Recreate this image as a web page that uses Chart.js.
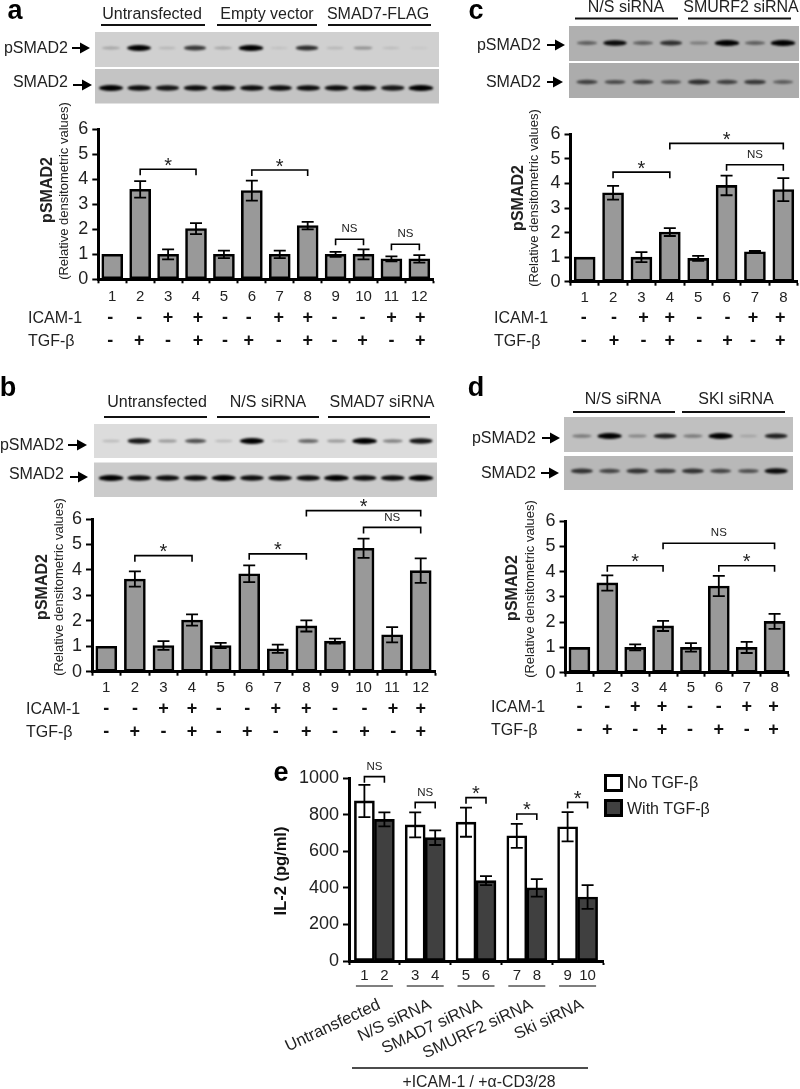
<!DOCTYPE html>
<html lang="en">
<head>
  <meta charset="UTF-8">
  <title>pSMAD2 densitometry and IL-2</title>
  <script src="https://cdn.jsdelivr.net/npm/chart.js"></script>
  <style>
    * { margin: 0; padding: 0; box-sizing: border-box; }
    body { width: 800px; height: 1089px; background: #fff; position: relative; overflow: hidden;
           font-family: 'Liberation Sans', Arial, sans-serif; color: #222; }
    canvas { position: absolute; }
    .t { position: absolute; white-space: nowrap; line-height: 1; }
    .box { position: absolute; border: 3px solid #000; }
  </style>
</head>
<body>
  <canvas id="backdrop" width="800" height="1089" style="left:0;top:0"></canvas>

  <script>
    // panel a
    const aLabels = ['1','2','3','4','5','6','7','8','9','10','11','12'];
    const aValues = [1, 3.6, 1, 2.03, 1, 3.55, 1, 2.15, 1, 1, 0.82, 0.82];
    const aErrors = [0, 0.33, 0.2, 0.22, 0.15, 0.4, 0.15, 0.15, 0.1, 0.2, 0.1, 0.15];
    const aIcam = ['-','-','+','+','-','-','+','+','-','-','+','+'];
    const aTgf = ['-','+','-','+','-','+','-','+','-','+','-','+'];
    const aBrackets = [[2,4,4.4,'*'], [6,8,4.37,'*'], [9,10,1.6,'NS'], [11,12,1.4,'NS']];

    // panel b
    const bLabels = ['1','2','3','4','5','6','7','8','9','10','11','12'];
    const bValues = [1, 3.64, 1.03, 2.03, 1.03, 3.85, 0.9, 1.8, 1.2, 4.85, 1.45, 3.97];
    const bErrors = [0, 0.3, 0.17, 0.22, 0.1, 0.33, 0.16, 0.22, 0.1, 0.38, 0.3, 0.48];
    const bIcam = ['-','-','+','+','-','-','+','+','-','-','+','+'];
    const bTgf = ['-','+','-','+','-','+','-','+','-','+','-','+'];
    const bBrackets = [[2,4,4.56,'*'], [6,8,4.63,'*'], [8,12,6.33,'*'], [10,12,5.67,'NS']];

    // panel c
    const cLabels = ['1','2','3','4','5','6','7','8'];
    const cValues = [1, 3.62, 1, 2.02, 0.95, 3.92, 1.22, 3.75];
    const cErrors = [0, 0.28, 0.2, 0.16, 0.1, 0.4, 0.03, 0.47];
    const cIcam = ['-','-','+','+','-','-','+','+'];
    const cTgf = ['-','+','-','+','-','+','-','+'];
    const cBrackets = [[2,4,4.46,'*'], [4,8,5.63,'*'], [6,8,4.76,'NS']];

    // panel d
    const dLabels = ['1','2','3','4','5','6','7','8'];
    const dValues = [1, 3.55, 1, 1.85, 1, 3.43, 1, 2.03];
    const dErrors = [0, 0.3, 0.12, 0.2, 0.17, 0.4, 0.22, 0.3];
    const dIcam = ['-','-','+','+','-','-','+','+'];
    const dTgf = ['-','+','-','+','-','+','-','+'];
    const dBrackets = [[2,4,4.23,'*'], [4,8,5.12,'NS'], [6,8,4.23,'*']];

    // panel e
    const eCategories = ['Untransfected','N/S siRNA','SMAD7 siRNA','SMURF2 siRNA','Ski siRNA'];
    const eSeries = ['No TGF-β','With TGF-β'];
    const eNoTgf = [876, 745, 760, 685, 735];
    const eNoTgfErr = [88, 68, 80, 66, 80];
    const eWithTgf = [775, 675, 440, 400, 350];
    const eWithTgfErr = [38, 40, 25, 48, 65];
    const eBarNumbers = ['1','2','3','4','5','6','7','8','9','10'];
    const eBrackets = [[1,2,1009,'NS'], [3,4,868,'NS'], [5,6,894,'*'], [7,8,805,'*'], [9,10,868,'*']];

    // western blot band strength per lane (0-1)
    const aPhospho = [.2,.95,.12,.7,.2,1,.08,.75,.12,.3,.1,.05];
    const aTotal = [.95,.9,.85,.9,.9,.9,.9,.9,.9,.9,.85,1];
    const bPhospho = [.15,.85,.3,.6,.15,.95,.1,.5,.3,1,.4,.85];
    const bTotal = [1,.9,.9,.9,.95,.9,.9,.9,1,.9,.9,1];
    const cPhospho = [.45,.9,.45,.7,.3,1,.45,1];
    const cTotal = [.6,.55,.6,.5,.7,.6,.65,.45];
    const dPhospho = [.35,1,.3,.8,.35,1,.15,.8];
    const dTotal = [.7,.6,.7,.65,.7,.6,.55,.9];

    const FONT = "'Liberation Sans', Arial, sans-serif";

    function put(str, x, y, size, opts) {
      opts = opts || {};
      const el = document.createElement('div');
      el.className = 't';
      el.textContent = str;
      el.style.left = x + 'px';
      el.style.top = y + 'px';
      el.style.fontSize = size + 'px';
      if (opts.bold) el.style.fontWeight = 'bold';
      if (opts.color) el.style.color = opts.color;
      const ax = opts.align === 'right' ? '-100%' : opts.align === 'left' ? '0' : '-50%';
      el.style.transform = 'translate(' + ax + ',-50%)' + (opts.rotate ? ' rotate(' + opts.rotate + 'deg)' : '');
      document.body.appendChild(el);
    }

    // blots, arrows and group lines sit on a plain backdrop canvas
    const bg = document.getElementById('backdrop').getContext('2d');

    function blot(x0, y0, x1, y1, shade, laneL, laneR, bandY, bands) {
      bg.fillStyle = shade;
      bg.fillRect(x0, y0, x1 - x0, y1 - y0);
      const w = (laneR - laneL) / bands.length;
      bg.save();
      bg.beginPath();
      bg.rect(x0, y0, x1 - x0, y1 - y0);
      bg.clip();
      bg.filter = 'blur(1.2px)';
      bands.forEach((s, i) => {
        bg.fillStyle = 'rgba(0,0,0,' + Math.min(1, s * 1.05) + ')';
        bg.beginPath();
        bg.ellipse(laneL + (i + .5) * w, bandY, w * (.3 + .14 * s), 1 + 2 * s, 0, 0, Math.PI * 2);
        bg.fill();
      });
      bg.restore();
    }

    function arrow(x0, x1, y) {
      bg.strokeStyle = '#000';
      bg.fillStyle = '#000';
      bg.lineWidth = 2;
      bg.beginPath(); bg.moveTo(x0, y); bg.lineTo(x1 - 8, y); bg.stroke();
      bg.beginPath(); bg.moveTo(x1 - 10, y - 5.5); bg.lineTo(x1, y); bg.lineTo(x1 - 10, y + 5.5); bg.fill();
    }

    function rule(x0, x1, y, width) {
      bg.strokeStyle = '#111';
      bg.lineWidth = width || 2;
      bg.beginPath(); bg.moveTo(x0, y); bg.lineTo(x1, y); bg.stroke();
    }

    // draws error bars, significance brackets, +/- rows on top of the bars
    function marksPlugin(p) {
      return {
        id: 'marks',
        afterDraw(chart) {
          const ctx = chart.ctx;
          const y = chart.scales.y;
          const x = chart.scales.x;
          const two = chart.data.datasets.length > 1;
          const barX = n => two
            ? chart.getDatasetMeta((n - 1) % 2).data[Math.floor((n - 1) / 2)].x
            : chart.getDatasetMeta(0).data[n - 1].x;

          ctx.save();
          ctx.strokeStyle = '#000';
          ctx.lineCap = 'butt';

          chart.data.datasets.forEach((ds, d) => {
            chart.getDatasetMeta(d).data.forEach((bar, i) => {
              const e = ds.errs[i];
              if (!e) return;
              const hi = y.getPixelForValue(ds.data[i] + e);
              const lo = y.getPixelForValue(ds.data[i] - e);
              ctx.lineWidth = 1.8;
              ctx.beginPath();
              ctx.moveTo(bar.x, hi); ctx.lineTo(bar.x, lo);
              ctx.moveTo(bar.x - 6, hi); ctx.lineTo(bar.x + 6, hi);
              ctx.moveTo(bar.x - 6, lo); ctx.lineTo(bar.x + 6, lo);
              ctx.stroke();
            });
          });

          ctx.textAlign = 'center';
          ctx.textBaseline = 'middle';
          p.brackets.forEach(b => {
            const x0 = barX(b[0]), x1 = barX(b[1]), yy = y.getPixelForValue(b[2]);
            ctx.lineWidth = 1.6;
            ctx.beginPath();
            ctx.moveTo(x0, yy + 6); ctx.lineTo(x0, yy); ctx.lineTo(x1, yy); ctx.lineTo(x1, yy + 6);
            ctx.stroke();
            ctx.fillStyle = '#222';
            if (b[3] === '*') {
              ctx.font = '20px ' + FONT;
              ctx.fillText('*', (x0 + x1) / 2, yy - 3);
            } else {
              ctx.font = '11.5px ' + FONT;
              ctx.fillText('NS', (x0 + x1) / 2, yy - 10);
            }
          });

          if (p.icam) {
            ctx.font = 'bold 18px ' + FONT;
            ctx.fillStyle = '#111';
            p.icam.forEach((s, i) => {
              const px = x.getPixelForValue(i) + p.nudge[i];
              ctx.fillText(s, px, p.rowY[0]);
              ctx.fillText(p.tgf[i], px, p.rowY[1]);
            });
          }

          if (p.barNumbers) {
            ctx.font = '15px ' + FONT;
            ctx.fillStyle = '#222';
            p.barNumbers.forEach((s, i) => {
              ctx.fillText(s, barX(i + 1), p.numberY);
            });
            ctx.lineWidth = 1.2;
            chart.data.labels.forEach((l, i) => {
              const c = x.getPixelForValue(i);
              ctx.beginPath();
              ctx.moveTo(c - 18.5, p.underY); ctx.lineTo(c + 18.5, p.underY);
              ctx.stroke();
            });
          }
          ctx.restore();
        }
      };
    }

    function plotChart(p) {
      const r = p.rect;
      const cv = document.createElement('canvas');
      cv.width = r.right - r.left;
      cv.height = r.bottom - r.top;
      cv.style.left = r.left + 'px';
      cv.style.top = r.top + 'px';
      document.body.appendChild(cv);

      return new Chart(cv.getContext('2d'), {
        type: 'bar',
        data: { labels: p.labels, datasets: p.datasets },
        plugins: [marksPlugin(p)],
        options: {
          responsive: false,
          animation: false,
          layout: {
            autoPadding: false,
            padding: { left: 0, bottom: 0, top: p.plot.top - r.top, right: r.right - p.plot.right }
          },
          plugins: { legend: { display: false }, tooltip: { enabled: false } },
          scales: {
            x: {
              offset: true,
              afterFit(s) { s.height = r.bottom - p.plot.bottom; s.paddingLeft = 0; s.paddingRight = 0; },
              grid: { offset: true, drawOnChartArea: false, tickLength: 4, tickColor: '#000', tickWidth: 2 },
              border: { color: '#000', width: 3 },
              ticks: Object.assign({ color: '#222', font: { family: FONT, size: 15 }, padding: p.numPad || 3, autoSkip: false, maxRotation: 0 }, p.xTicks || {})
            },
            y: {
              min: 0,
              max: p.max,
              afterFit(s) { s.width = p.plot.left - r.left; s.paddingTop = 0; s.paddingBottom = 0; },
              grid: { drawOnChartArea: false, tickLength: 6, tickColor: '#000', tickWidth: 2 },
              border: { color: '#000', width: 3 },
              ticks: { stepSize: p.step, autoSkip: false, color: '#222', font: { family: FONT, size: 18 }, padding: 4, callback: v => String(v) }
            }
          }
        }
      });
    }

    function barSet(values, errs) {
      return [{ data: values, errs: errs, backgroundColor: '#999', borderColor: '#000', borderWidth: 2.6, borderSkipped: false, barThickness: 21 }];
    }

    // ---- panel a
    put('a', 15, 10, 27, { bold: true, color: '#000' });
    put('Untransfected', 152, 14, 16);
    put('Empty vector', 267, 14, 16);
    put('SMAD7-FLAG', 378, 14, 16);
    rule(101, 205, 25); rule(217, 317, 25); rule(328, 431, 25);
    blot(95, 32, 439, 67, '#d0d0d0', 97, 433, 48, aPhospho);
    blot(95, 69, 439, 103.5, '#c4c4c4', 97, 435, 88, aTotal);
    put('pSMAD2', 68, 48, 16, { align: 'right' });
    put('SMAD2', 68, 82, 16, { align: 'right' });
    arrow(72, 90, 48); arrow(73, 92, 85);
    put('pSMAD2', 46.5, 190, 16, { bold: true, rotate: -90 });
    put('(Relative densitometric values)', 63, 190.5, 13, { rotate: -90 });
    put('ICAM-1', 28, 318, 16, { align: 'left' });
    put('TGF-β', 28, 341, 16, { align: 'left' });
    plotChart({
      rect: { left: 20, top: 110, right: 445, bottom: 355 },
      plot: { left: 98.3, top: 129.3, right: 433.3, bottom: 279.3 },
      max: 6, step: 1, labels: aLabels, datasets: barSet(aValues, aErrors),
      brackets: aBrackets, icam: aIcam, tgf: aTgf, rowY: [208, 231], numPad: 5,
      nudge: [-2,-1,0,2,1,-3,-1,0,-1,-1,0,1]
    });

    // ---- panel c
    put('c', 476, 10, 27, { bold: true, color: '#000' });
    put('N/S siRNA', 626, 7, 16);
    put('SMURF2 siRNA', 741, 7, 16);
    rule(575, 678, 18.5); rule(688, 791, 18.5);
    blot(569, 26, 799, 61, '#b0b0b0', 573, 797, 43, cPhospho);
    blot(569, 63, 799, 98, '#acacac', 573, 797, 82, cTotal);
    put('pSMAD2', 541, 45, 16, { align: 'right' });
    put('SMAD2', 541, 82, 16, { align: 'right' });
    arrow(547, 565, 45); arrow(547, 563, 82);
    put('pSMAD2', 518, 198, 16, { bold: true, rotate: -90 });
    put('(Relative densitometric values)', 533, 198, 13, { rotate: -90 });
    put('ICAM-1', 494, 318, 16, { align: 'left' });
    put('TGF-β', 494, 341, 16, { align: 'left' });
    plotChart({
      rect: { left: 485, top: 110, right: 800, bottom: 355 },
      plot: { left: 570.5, top: 134.3, right: 797.5, bottom: 281.7 },
      max: 6, step: 1, labels: cLabels, datasets: barSet(cValues, cErrors),
      brackets: cBrackets, icam: cIcam, tgf: cTgf, rowY: [208, 231],
      nudge: [-1,1,2,0,1,1,-2,-3]
    });

    // ---- panel b
    put('b', 8, 387, 27, { bold: true, color: '#000' });
    put('Untransfected', 157, 402, 16);
    put('N/S siRNA', 268, 402, 16);
    put('SMAD7 siRNA', 382, 402, 16);
    rule(104, 207, 417); rule(217, 319, 417); rule(328, 430, 417);
    blot(94, 424, 437, 458, '#dcdcdc', 97, 435, 441, bPhospho);
    blot(94, 462.5, 437, 497, '#cbcbcb', 97, 435, 478, bTotal);
    put('pSMAD2', 64, 445, 16, { align: 'right' });
    put('SMAD2', 64, 474, 16, { align: 'right' });
    arrow(68, 87, 445); arrow(70, 88, 477);
    put('pSMAD2', 41.5, 586.5, 16, { bold: true, rotate: -90 });
    put('(Relative densitometric values)', 58, 586.5, 13, { rotate: -90 });
    put('ICAM-1', 26, 709, 16, { align: 'left' });
    put('TGF-β', 26, 732, 16, { align: 'left' });
    plotChart({
      rect: { left: 15, top: 497, right: 445, bottom: 750 },
      plot: { left: 92, top: 519, right: 435, bottom: 671.7 },
      max: 6, step: 1, labels: bLabels, datasets: barSet(bValues, bErrors),
      brackets: bBrackets, icam: bIcam, tgf: bTgf, rowY: [212, 235],
      nudge: [0,0,0,0,-2,-2,-2,0,0,1,1,0]
    });

    // ---- panel d
    put('d', 476, 387, 27, { bold: true, color: '#000' });
    put('N/S siRNA', 623, 399, 16);
    put('SKI siRNA', 736, 399, 16);
    rule(573, 675, 412); rule(682, 785, 412);
    blot(564, 417, 793, 452, '#c0c0c0', 568, 790, 436, dPhospho);
    blot(564, 456, 793, 490, '#b8b8b8', 568, 790, 471, dTotal);
    put('pSMAD2', 536, 438, 16, { align: 'right' });
    put('SMAD2', 536, 473, 16, { align: 'right' });
    arrow(542, 560, 438); arrow(541, 559, 473);
    put('pSMAD2', 511.5, 588, 16, { bold: true, rotate: -90 });
    put('(Relative densitometric values)', 529, 588.5, 13, { rotate: -90 });
    put('ICAM-1', 491, 707, 16, { align: 'left' });
    put('TGF-β', 491, 730, 16, { align: 'left' });
    plotChart({
      rect: { left: 480, top: 497, right: 795, bottom: 750 },
      plot: { left: 565.5, top: 521, right: 788.5, bottom: 672.7 },
      max: 6, step: 1, labels: dLabels, datasets: barSet(dValues, dErrors),
      brackets: dBrackets, icam: dIcam, tgf: dTgf, rowY: [210, 233], numPad: 2,
      nudge: [0,0,0,-1,-1,0,0,-1]
    });

    // ---- panel e
    put('e', 281, 772, 27, { bold: true, color: '#000' });
    put('IL-2 (pg/ml)', 280, 871, 16.5, { bold: true, rotate: -90, color: '#111' });
    rule(352, 588, 1068, 1.3);
    put('+ICAM-1 / +α-CD3/28', 479, 1082, 15.8);
    [['#fff', 774], ['#404040', 799]].forEach(b => {
      const el = document.createElement('div');
      el.className = 'box';
      el.style.cssText = 'left:604px;top:' + b[1] + 'px;width:19px;height:18px;background:' + b[0];
      document.body.appendChild(el);
    });
    put(eSeries[0], 627, 783, 16, { align: 'left' });
    put(eSeries[1], 627, 809, 16, { align: 'left' });
    plotChart({
      rect: { left: 270, top: 755, right: 610, bottom: 1066 },
      plot: { left: 349, top: 778.3, right: 603, bottom: 961 },
      max: 1000, step: 200, labels: eCategories,
      datasets: [
        { data: eNoTgf, errs: eNoTgfErr, backgroundColor: '#fff', borderColor: '#000', borderWidth: 2.6, borderSkipped: false, barThickness: 20 },
        { data: eWithTgf, errs: eWithTgfErr, backgroundColor: '#404040', borderColor: '#000', borderWidth: 2.6, borderSkipped: false, barThickness: 20 }
      ],
      brackets: eBrackets, barNumbers: eBarNumbers, numberY: 221, underY: 231,
      xTicks: { minRotation: 25, maxRotation: 25, padding: 30, labelOffset: 5, font: { family: FONT, size: 16.5 } }
    });
  </script>
</body>
</html>
